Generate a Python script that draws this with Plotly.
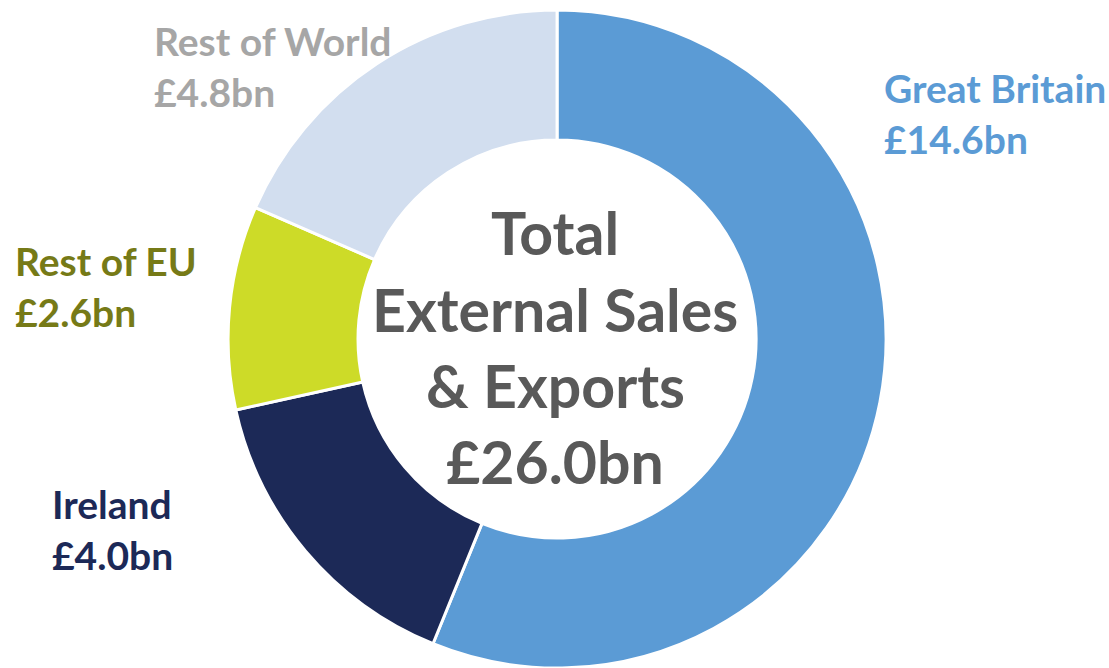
import plotly.graph_objects as go

# Data
regions = ["Great Britain", "Ireland", "Rest of EU", "Rest of World"]
values_bn = [14.6, 4.0, 2.6, 4.8]
slice_colors = ["#5B9BD5", "#1C2957", "#CDDB28", "#D2DEEF"]
label_colors = ["#5B9BD5", "#1C2957", "#767A17", "#A6A6A6"]
total_bn = 26.0
center_lines = ["Total", "External Sales", "& Exports", f"£{total_bn:.1f}bn"]

W, H = 1109, 668
FONT = "Lato, 'Open Sans', sans-serif"

fig = go.Figure(go.Pie(
    labels=regions,
    values=values_bn,
    sort=False,
    direction="clockwise",
    rotation=0,
    hole=0.605,
    marker=dict(colors=slice_colors, line=dict(color="white", width=3)),
    textinfo="none",
    hoverinfo="label+value",
    showlegend=False,
    domain=dict(x=[0.2023, 0.8023], y=[0.0, 0.985]),
))

# label positions (px from left, px from top) for name line; value line below
label_pos = {
    "Great Britain": (882, 88),
    "Ireland": (50, 504),
    "Rest of EU": (13, 261),
    "Rest of World": (152, 41),
}
annotations = []
for name, val, col in zip(regions, values_bn, label_colors):
    x, y = label_pos[name]
    for i, txt in enumerate([name, f"£{val:.1f}bn"]):
        annotations.append(dict(
            x=x / W, y=1 - (y + i * 51) / H, xref="paper", yref="paper",
            xanchor="left", yanchor="middle", showarrow=False,
            text=f"<b>{txt}</b>",
            font=dict(family=FONT, size=39, color=col),
        ))

center_y = [232, 310, 386, 462]
for txt, y in zip(center_lines, center_y):
    annotations.append(dict(
        x=555 / W, y=1 - y / H, xref="paper", yref="paper",
        xanchor="center", yanchor="middle", showarrow=False,
        text=f"<b>{txt}</b>",
        font=dict(family=FONT, size=59, color="#595959"),
    ))

fig.update_layout(
    width=W, height=H,
    margin=dict(l=0, r=0, t=0, b=0),
    paper_bgcolor="white", plot_bgcolor="white",
    annotations=annotations,
)

fig.write_html("out.html", config={"displayModeBar": False})

# remove default page margin so the figure sits at the window origin
with open("out.html", "r", encoding="utf-8") as f:
    html = f.read()
html = html.replace("<head>", "<head><style>html,body{margin:0;padding:0;overflow:hidden;}</style>", 1)
with open("out.html", "w", encoding="utf-8") as f:
    f.write(html)
